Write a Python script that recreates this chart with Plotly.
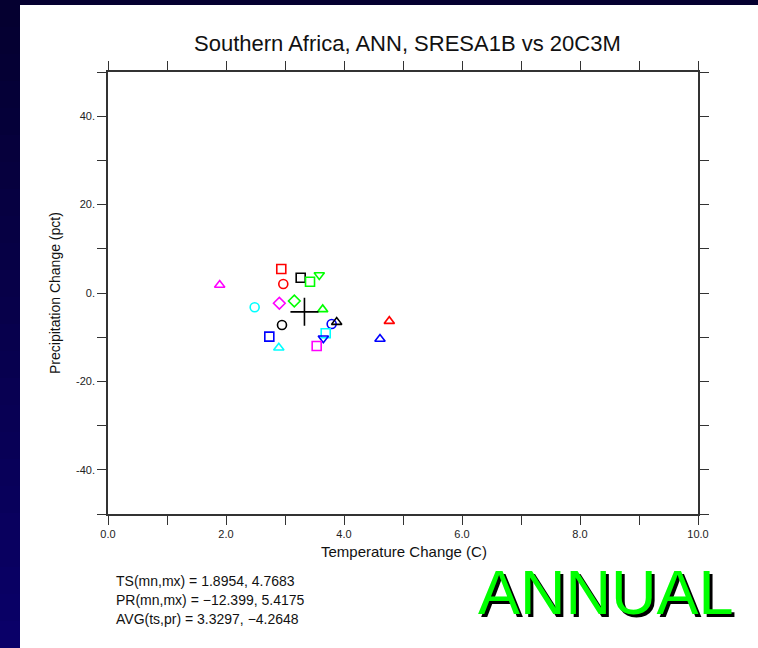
import plotly.graph_objects as go

# ---- data ----
model_ts = [1.893, 2.937, 3.266, 3.581, 2.971, 3.424, 2.486, 2.904, 3.158, 3.639,
            2.949, 3.791, 3.876, 4.768, 2.734, 2.895, 3.690, 3.650, 3.537, 4.610]
model_pr = [1.81, 5.42, 3.45, 4.07, 2.03, 2.55, -3.23, -2.33, -1.81, -3.71,
            -7.23, -7.00, -6.59, -6.37, -9.87, -12.40, -9.11, -10.25, -11.98, -10.40]
model_color = ["#ff00ff", "#ff0000", "#000000", "#00ff00", "#ff0000", "#00ff00", "#00ffff", "#ff00ff", "#00ff00", "#00ff00",
               "#000000", "#0000ff", "#000000", "#ff0000", "#0000ff", "#00ffff", "#00ffff", "#0000ff", "#ff00ff", "#0000ff"]
model_symbol = ["triangle-up-open", "square-open", "square-open", "triangle-down-open", "circle-open", "square-open",
                "circle-open", "diamond-open", "diamond-open", "triangle-up-open", "circle-open", "circle-open",
                "triangle-up-open", "triangle-up-open", "square-open", "triangle-up-open", "square-open",
                "triangle-down-open", "square-open", "triangle-up-open"]
avg_ts = [3.3297]
avg_pr = [-4.2648]

x_tickvals = [0, 1, 2, 3, 4, 5, 6, 7, 8, 9, 10]
x_ticktext = ["0.0", "", "2.0", "", "4.0", "", "6.0", "", "8.0", "", "10.0"]
y_tickvals = [-50, -40, -30, -20, -10, 0, 10, 20, 30, 40, 50]
y_ticktext = ["", "-40.", "", "-20.", "", "0.", "", "20.", "", "40.", ""]

title_text = "Southern Africa, ANN, SRESA1B vs 20C3M"
x_title = "Temperature Change (C)"
y_title = "Precipitation Change (pct)"
stats_lines = ["TS(mn,mx) = 1.8954, 4.7683",
               "PR(mn,mx) = \u221212.399, 5.4175",
               "AVG(ts,pr) = 3.3297, \u22124.2648"]
season_label = "ANNUAL"

W, H = 758, 648
ML, MR, MT, MB = 108, 60, 72, 134
PW, PH = W - ML - MR, H - MT - MB


def px(x):
    return (x - ML) / PW


def py(y):
    return (H - MB - y) / PH


fig = go.Figure()
fig.add_trace(go.Scatter(
    x=model_ts, y=model_pr, mode="markers",
    marker=dict(symbol=model_symbol, color=model_color, size=9,
                line=dict(width=1.6, color=model_color)),
    showlegend=False, hoverinfo="x+y"))
fig.add_trace(go.Scatter(
    x=avg_ts, y=avg_pr, mode="markers",
    marker=dict(symbol="cross-thin-open", size=20, color="#000000",
                line=dict(width=1.6, color="#000000")),
    showlegend=False))

axis_common = dict(showgrid=False, zeroline=False, showline=True, linecolor="#333333",
                   linewidth=1.6, mirror="allticks", ticks="outside", ticklen=9,
                   tickwidth=1.4, tickcolor="#333333",
                   tickfont=dict(family="Liberation Sans", size=11, color="#222222"))

fig.update_xaxes(range=[0, 10], tickmode="array", tickvals=x_tickvals, ticktext=x_ticktext,
                 **axis_common)
fig.update_yaxes(range=[-50, 50], tickmode="array", tickvals=y_tickvals, ticktext=y_ticktext,
                 **axis_common)

shapes = []
# dark frame: top band and left band with vertical gradient
shapes.append(dict(type="rect", xref="paper", yref="paper", x0=px(0), x1=px(W), y0=py(5), y1=py(0),
                   fillcolor="#050030", line=dict(width=0), layer="above"))
n = 24
for i in range(n):
    t = i / (n - 1)
    r = int(5 + (10 - 5) * t)
    b = int(0x30 + (0x68 - 0x30) * t)
    shapes.append(dict(type="rect", xref="paper", yref="paper", x0=px(0), x1=px(20),
                       y0=py(H * (i + 1) / n + 1), y1=py(H * i / n),
                       fillcolor="rgb(%d,0,%d)" % (r, b), line=dict(width=0), layer="above"))

annotations = [
    dict(text=title_text, x=px(407), y=py(43), xref="paper", yref="paper", showarrow=False,
         font=dict(family="Liberation Sans", size=22, color="#111111"), xanchor="center", yanchor="middle"),
    dict(text=x_title, x=px(404), y=py(551), xref="paper", yref="paper", showarrow=False,
         font=dict(family="Liberation Sans", size=15, color="#111111"), xanchor="center", yanchor="middle"),
    dict(text=y_title, x=px(55), y=py(293), xref="paper", yref="paper", showarrow=False, textangle=-90,
         font=dict(family="Liberation Sans", size=14, color="#111111"), xanchor="center", yanchor="middle"),
]
for i, line in enumerate(stats_lines):
    annotations.append(dict(text=line, x=px(114), y=py(581 + 19 * i), xref="paper", yref="paper",
                            showarrow=False, xanchor="left", yanchor="middle",
                            font=dict(family="Liberation Sans", size=14, color="#111111")))
# ANNUAL with drop shadow
annotations.append(dict(text=season_label, x=px(609), y=py(595), xref="paper", yref="paper",
                        showarrow=False, xanchor="center", yanchor="middle",
                        font=dict(family="Liberation Sans", size=63, color="#000000")))
annotations.append(dict(text=season_label, x=px(606), y=py(592), xref="paper", yref="paper",
                        showarrow=False, xanchor="center", yanchor="middle",
                        font=dict(family="Liberation Sans", size=63, color="#00ff00")))

fig.update_layout(width=W, height=H, margin=dict(l=ML, r=MR, t=MT, b=MB, autoexpand=False),
                  paper_bgcolor="#ffffff", plot_bgcolor="#ffffff",
                  shapes=shapes, annotations=annotations)

fig.write_html("out.html")
